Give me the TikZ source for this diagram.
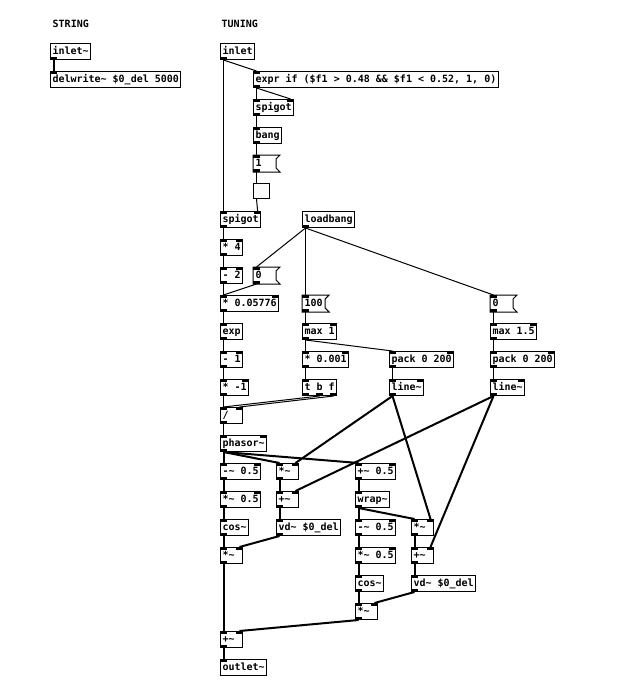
\documentclass[tikz,border=0pt]{standalone}
\usepackage{fontspec}
\setmonofont{DejaVu Sans Mono}[BoldFont={DejaVu Sans Mono Bold}]
\usetikzlibrary{calc}

\begin{document}
\begin{tikzpicture}[x=1pt, y=-1pt, font=\ttfamily\bfseries\fontsize{10}{12}\selectfont]

\tikzstyle{obj}=[draw, line width=1pt, fill=white, anchor=north west, minimum height=16pt, inner xsep=2pt, inner ysep=0pt, text height=7.5pt, text depth=2.5pt, align=left]
\tikzstyle{short}=[text width=18pt]
\tikzstyle{msg}=[obj, draw=none, fill=none]
\tikzstyle{ctl}=[line width=1pt]
\tikzstyle{sig}=[line width=2pt]
\tikzstyle{note}=[anchor=base west, inner sep=0pt]

\fill[white] (0,0) rectangle (633,699);
\useasboundingbox (0,0) rectangle (633,699);

% comments
\node[note] (cstr) at (52.5,27.5) {STRING};
\node[note] (ctun) at (221.5,27.5) {TUNING};

% string part
\node[obj] (strin) at (50,43) {inlet\textasciitilde};
\node[obj] (delw) at (50,71) {delwrite\textasciitilde{} \$0\_del 5000};

% tuning part
\node[obj] (inl) at (220,43) {inlet};
\node[obj] (expr) at (253,71) {expr if (\$f1 > 0.48 \&\& \$f1 < 0.52, 1, 0)};
\node[obj] (spgr) at (253,99) {spigot};
\node[obj] (bang) at (253,127) {bang};
\node[msg, short] (one) at (253,155) {1};
\node[obj, fill=gray!4, minimum width=16pt, minimum height=15pt] (bng) at (253,183) {};
\node[obj] (spgl) at (220,211) {spigot};
\node[obj] (lb) at (302,211) {loadbang};
\node[obj] (mul4) at (220,239) {* 4};
\node[obj] (sub2) at (220,267) {- 2};
\node[msg, short] (zeroa) at (253,267) {0};
\node[obj] (mulc) at (220,295) {* 0.05776};
\node[msg] (hund) at (302,295) {100};
\node[msg, short] (zerob) at (490,295) {0};
\node[obj] (exp) at (220,323) {exp};
\node[obj] (maxa) at (302,323) {max 1};
\node[obj] (maxb) at (490,323) {max 1.5};
\node[obj] (sub1) at (220,351) {- 1};
\node[obj] (milli) at (302,351) {* 0.001};
\node[obj] (packa) at (389,351) {pack 0 200};
\node[obj] (packb) at (490,351) {pack 0 200};
\node[obj] (neg) at (220,379) {* -1};
\node[obj] (tbf) at (302,379) {t b f};
\node[obj] (linea) at (389,379) {line\textasciitilde};
\node[obj] (lineb) at (490,379) {line\textasciitilde};
\node[obj, short] (div) at (220,407) {/};
\node[obj] (phas) at (220,435) {phasor\textasciitilde};

% signal part
\node[obj] (suba) at (220,463) {-\textasciitilde{} 0.5};
\node[obj, short] (mulw) at (276,463) {*\textasciitilde};
\node[obj] (addh) at (355,463) {+\textasciitilde{} 0.5};
\node[obj] (mula) at (220,491) {*\textasciitilde{} 0.5};
\node[obj, short] (addw) at (276,491) {+\textasciitilde};
\node[obj] (wrap) at (355,491) {wrap\textasciitilde};
\node[obj] (cosa) at (220,519) {cos\textasciitilde};
\node[obj] (vda) at (276,519) {vd\textasciitilde{} \$0\_del};
\node[obj] (subb) at (355,519) {-\textasciitilde{} 0.5};
\node[obj, short] (mulv) at (411,519) {*\textasciitilde};
\node[obj, short] (wina) at (220,547) {*\textasciitilde};
\node[obj] (mulb) at (355,547) {*\textasciitilde{} 0.5};
\node[obj, short] (addv) at (411,547) {+\textasciitilde};
\node[obj] (cosb) at (355,575) {cos\textasciitilde};
\node[obj] (vdb) at (411,575) {vd\textasciitilde{} \$0\_del};
\node[obj, short] (winb) at (355,603) {*\textasciitilde};
\node[obj, short] (mix) at (220,631) {+\textasciitilde};
\node[obj] (out) at (220,659) {outlet\textasciitilde};

% message boxes
\foreach \m in {one,zeroa,hund,zerob}
  \draw[line width=1pt] (\m.north west) -- ($(\m.north east)+(4,0)$) -- ($(\m.north east)+(0,4)$)
    -- ($(\m.south east)+(0,-4)$) -- ($(\m.south east)+(4,0)$) -- (\m.south west) -- cycle;

% inlets and outlets
\foreach \n/\pin/\pout in {strin/0/1, delw/1/0, inl/0/1, expr/1/1, spgr/2/1, bang/1/1, one/1/1,
    bng/0/0, spgl/2/1, lb/0/1, mul4/2/1, sub2/2/1, zeroa/1/1, mulc/2/1, hund/1/1, zerob/1/1,
    exp/1/1, maxa/2/1, maxb/2/1, sub1/2/1, milli/2/1, packa/2/1, packb/2/1, neg/2/1, tbf/1/2,
    linea/2/1, lineb/2/1, div/2/1, phas/2/1, suba/2/1, mulw/2/1, addh/2/1, mula/2/1, addw/2/1,
    wrap/1/1, cosa/1/1, vda/1/1, subb/2/1, mulv/2/1, wina/2/1, mulb/2/1, addv/2/1, cosb/1/1,
    vdb/1/1, winb/2/1, mix/2/1, out/1/0} {
  \coordinate (\n-i0) at ($(\n.north west)+(3.5,0)$);
  \coordinate (\n-i1) at ($(\n.north east)+(-3.5,0)$);
  \coordinate (\n-o0) at ($(\n.south west)+(3.5,0)$);
  \coordinate (\n-o1) at ($(\n.south east)+(-3.5,0)$);
  \ifnum\pin>0 \fill (\n.north west) rectangle ++(7,3); \fi
  \ifnum\pin>1 \fill (\n.north east) rectangle ++(-7,3); \fi
  \ifnum\pout>0 \fill (\n.south west) rectangle ++(7,-3); \fi
  \ifnum\pout>1 \fill (\n.south east) rectangle ++(-7,-3); \fi
}
\coordinate (tbf-om) at (tbf.south);
\fill ($(tbf.south)+(-3.5,0)$) rectangle ++(7,-3);

% control connections
\draw[ctl] (inl-o0) -- (expr-i0);
\draw[ctl] (inl-o0) -- (spgl-i0);
\draw[ctl] (expr-o0) -- (spgr-i0);
\draw[ctl] (expr-o0) -- (spgr-i1);
\draw[ctl] (spgr-o0) -- (bang-i0);
\draw[ctl] (bang-o0) -- (one-i0);
\draw[ctl] (one-o0) -- (bng-i0);
\draw[ctl] (bng-o0) -- (spgl-i1);
\draw[ctl] (spgl-o0) -- (mul4-i0);
\draw[ctl] (mul4-o0) -- (sub2-i0);
\draw[ctl] (sub2-o0) -- (mulc-i0);
\draw[ctl] (zeroa-o0) -- (mulc-i0);
\draw[ctl] (lb-o0) -- (zeroa-i0);
\draw[ctl] (lb-o0) -- (hund-i0);
\draw[ctl] (lb-o0) -- (zerob-i0);
\draw[ctl] (mulc-o0) -- (exp-i0);
\draw[ctl] (exp-o0) -- (sub1-i0);
\draw[ctl] (sub1-o0) -- (neg-i0);
\draw[ctl] (neg-o0) -- (div-i0);
\draw[ctl] (hund-o0) -- (maxa-i0);
\draw[ctl] (maxa-o0) -- (milli-i0);
\draw[ctl] (maxa-o0) -- (packa-i0);
\draw[ctl] (milli-o0) -- (tbf-i0);
\draw[ctl] (tbf-om) -- (div-i0);
\draw[ctl] (tbf-o1) -- (div-i1);
\draw[ctl] (div-o0) -- (phas-i0);
\draw[ctl] (zerob-o0) -- (maxb-i0);
\draw[ctl] (maxb-o0) -- (packb-i0);
\draw[ctl] (packa-o0) -- (linea-i0);
\draw[ctl] (packb-o0) -- (lineb-i0);

% signal connections
\draw[sig] (strin-o0) -- (delw-i0);
\draw[sig] (linea-o0) -- (mulw-i1);
\draw[sig] (linea-o0) -- (mulv-i1);
\draw[sig] (lineb-o0) -- (addw-i1);
\draw[sig] (lineb-o0) -- (addv-i1);
\draw[sig] (phas-o0) -- (suba-i0);
\draw[sig] (phas-o0) -- (mulw-i0);
\draw[sig] (phas-o0) -- (addh-i0);
\draw[sig] (suba-o0) -- (mula-i0);
\draw[sig] (mula-o0) -- (cosa-i0);
\draw[sig] (cosa-o0) -- (wina-i0);
\draw[sig] (mulw-o0) -- (addw-i0);
\draw[sig] (addw-o0) -- (vda-i0);
\draw[sig] (vda-o0) -- (wina-i1);
\draw[sig] (addh-o0) -- (wrap-i0);
\draw[sig] (wrap-o0) -- (subb-i0);
\draw[sig] (wrap-o0) -- (mulv-i0);
\draw[sig] (subb-o0) -- (mulb-i0);
\draw[sig] (mulb-o0) -- (cosb-i0);
\draw[sig] (cosb-o0) -- (winb-i0);
\draw[sig] (mulv-o0) -- (addv-i0);
\draw[sig] (addv-o0) -- (vdb-i0);
\draw[sig] (vdb-o0) -- (winb-i1);
\draw[sig] (wina-o0) -- (mix-i0);
\draw[sig] (winb-o0) -- (mix-i1);
\draw[sig] (mix-o0) -- (out-i0);

\end{tikzpicture}
\end{document}
